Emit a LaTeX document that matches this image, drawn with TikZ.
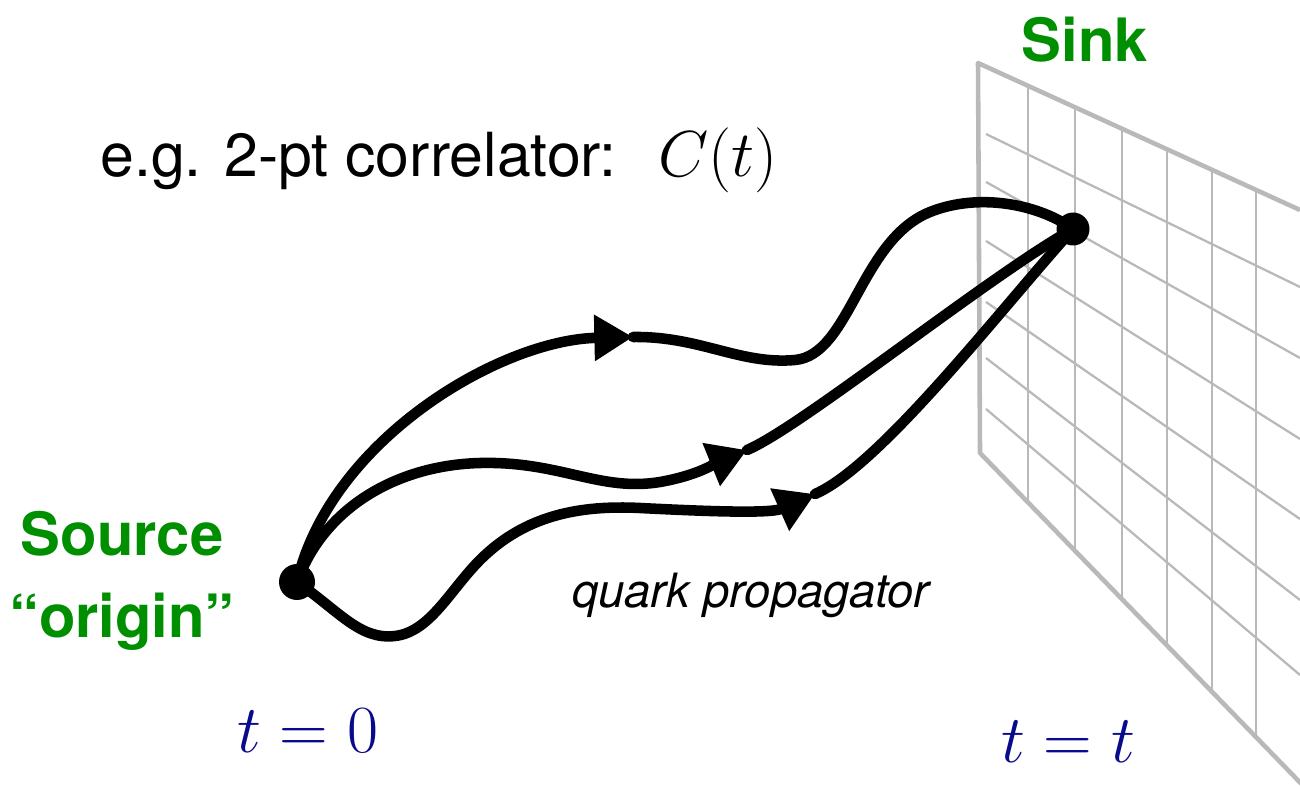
\RequirePackage{fix-cm}
\documentclass[tikz,border=0pt]{standalone}
\usepackage[no-math]{fontspec}
\newfontfamily\helv{TeX Gyre Heros}
\usetikzlibrary{arrows.meta}
\definecolor{srcgreen}{RGB}{0,143,0}
\definecolor{tnavy}{RGB}{10,10,140}
\definecolor{gridgray}{RGB}{185,185,185}
\tikzset{
  prop/.style={line width=6pt, line cap=round, line join=round, black},
  arrowtip/.style={-{Triangle[length=22pt,width=25pt]}},
  dot/.style={circle, fill=black, inner sep=0pt},
  framegray/.style={draw=gridgray, line width=2.6pt, line join=round},
  gridline/.style={draw=gridgray, line width=1.3pt},
  greenlabel/.style={inner sep=0pt, text=srcgreen, font=\helv\bfseries\fontsize{34}{40}\selectfont},
  tlabel/.style={inner sep=0pt, text=tnavy, font=\fontsize{38.4}{44}\selectfont},
}
\begin{document}
\begin{tikzpicture}[x=0.02cm, y=-0.02cm]
\useasboundingbox (0,0) rectangle (1300,786);
% grid (sink plane)
\begin{scope}
\clip (0,0) rectangle (1300,786);
\foreach \x in {1028,1075,1122,1167,1212,1256}
  \draw[gridline] (\x,{63+0.457*(\x-978)}) -- (\x,{453+1.03*(\x-980)});
\draw[gridline] (986,134) -- (1300,287);
\draw[gridline] (986,182) -- (1300,358);
\draw[gridline] (986,241) -- (1300,439);
\draw[gridline] (986,302) -- (1300,519);
\draw[gridline] (986,358) -- (1300,600);
\draw[gridline] (986,409) -- (1300,675);
\draw[framegray] (1300,210) -- (978,63) -- (980,453) -- (1320,803);
\end{scope}
% endpoints
\node[dot, minimum size=0.72cm] (src) at (297,582) {};
\node[dot, minimum size=0.66cm] (snk) at (1073,229) {};
\coordinate (a1) at (633,337);
\coordinate (a2) at (747,450);
\coordinate (a3) at (815,494);
% propagators
\draw[prop, arrowtip] (src.center) .. controls (330,440) and (500,340) .. (a1);
\draw[prop] (a1) .. controls (700,336) and (740,365) .. (795,360)
  .. controls (850,355) and (860,240) .. (930,212)
  .. controls (980,192) and (1040,205) .. (snk.center);
\draw[prop, arrowtip] (src.center) .. controls (325,505) and (400,465) .. (480,463)
  .. controls (560,461) and (600,492) .. (660,482)
  .. controls (700,475) and (720,461) .. (a2);
\draw[prop] (a2) .. controls (800,428) and (990,275) .. (snk.center);
\draw[prop, arrowtip] (src.center) .. controls (340,612) and (360,640) .. (395,636)
  .. controls (430,632) and (450,590) .. (480,560)
  .. controls (525,515) and (580,505) .. (640,508)
  .. controls (700,511) and (770,514) .. (a3);
\draw[prop] (a3) .. controls (880,466) and (1000,310) .. (snk.center);
% labels
\node[inner sep=0pt, anchor=base west, font=\helv\fontsize{34.6}{40}\selectfont] (eg) at (100,177) {e.g. 2-pt correlator:};
\node[inner sep=0pt, anchor=base west, font=\fontsize{37}{42}\selectfont] (ct) at (658,177) {$C(t)$};
\node[greenlabel, anchor=base] (sinklbl) at (1085,62) {Sink};
\node[greenlabel, anchor=base] (srclbl) at (122,555) {Source};
\node[greenlabel, anchor=base] (originlbl) at (122,637) {“origin”};
\node[inner sep=0pt, anchor=base west, font=\helv\itshape\fontsize{26.9}{30}\selectfont] (qp) at (572,607) {quark propagator};
\node[tlabel, anchor=base west] (t0) at (237,752) {$t=0$};
\node[tlabel, anchor=base west] (tt) at (1001,762) {$t=t$};
\end{tikzpicture}
\end{document}
